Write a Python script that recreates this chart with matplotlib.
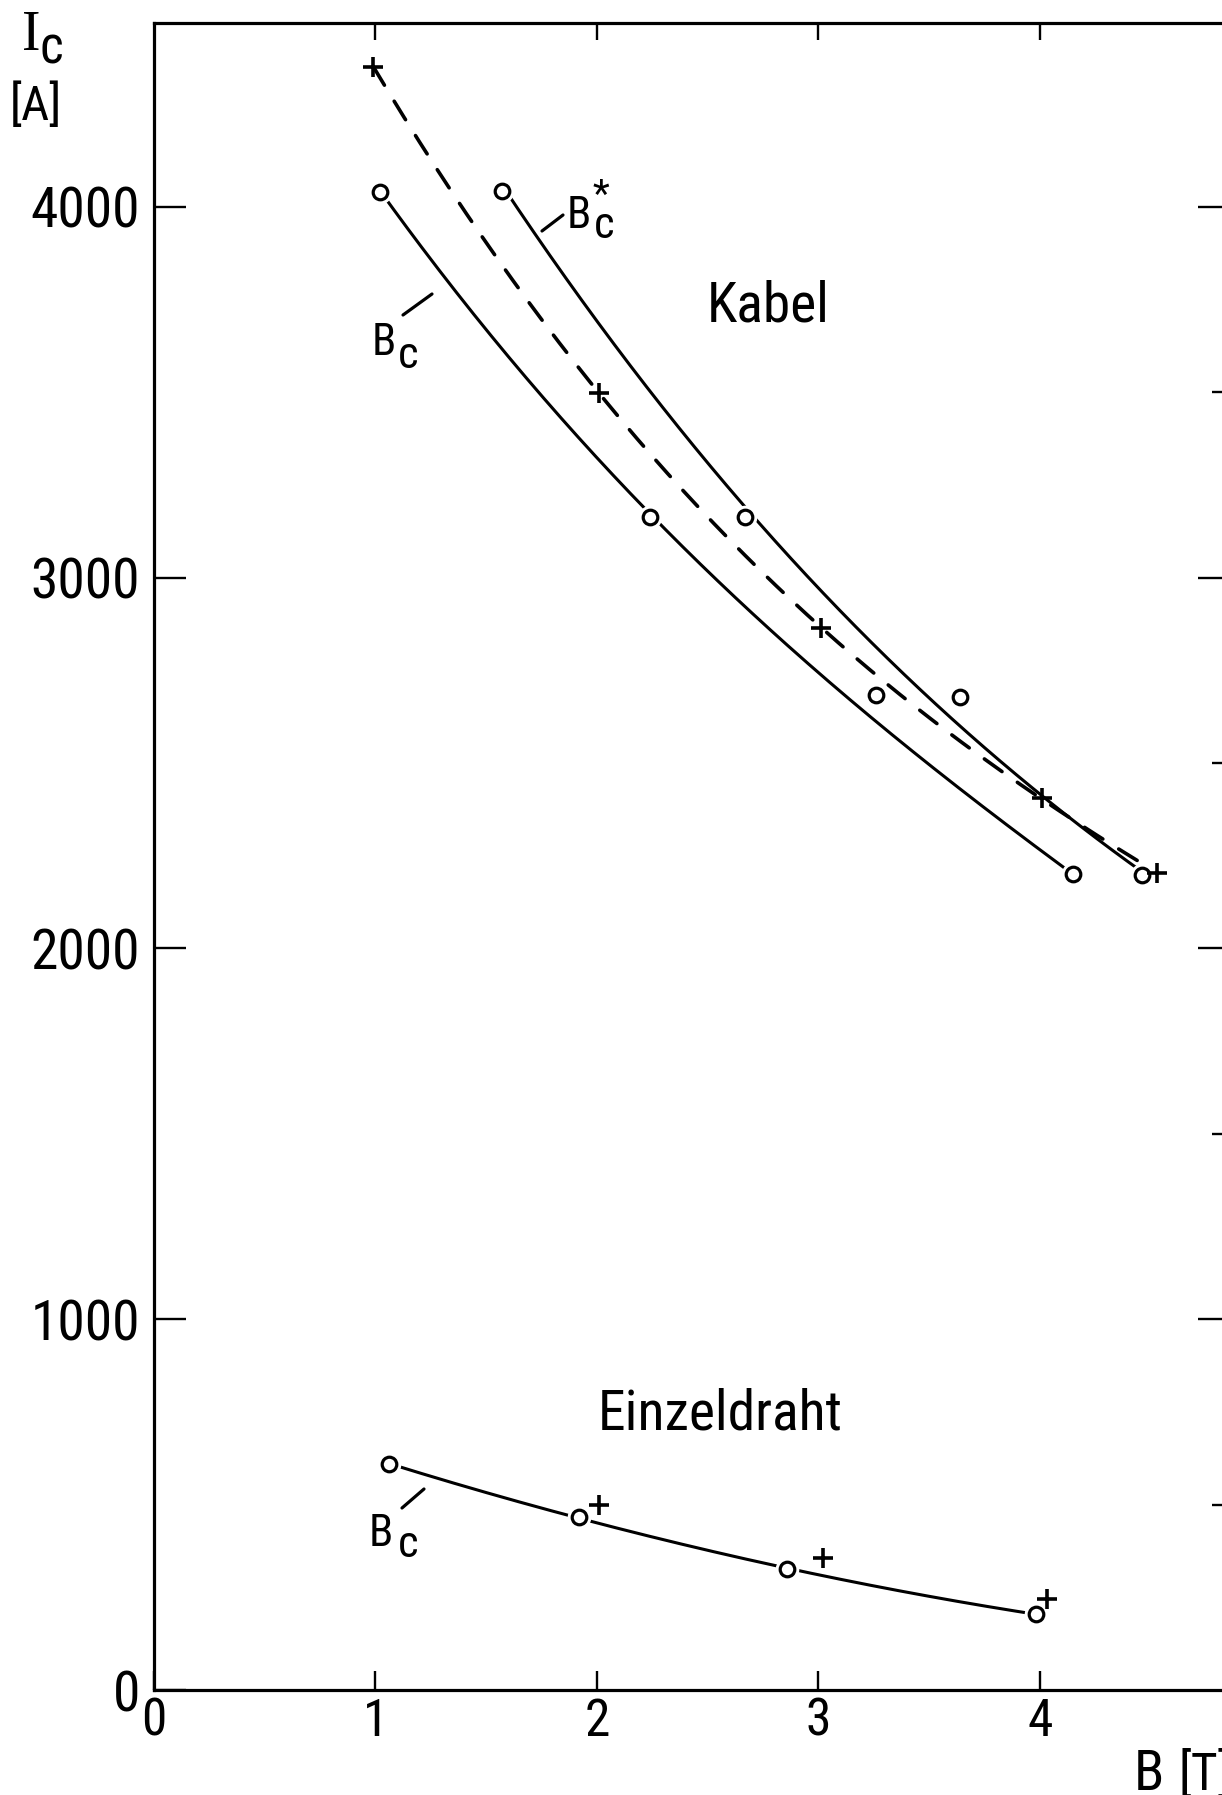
import os
import numpy as np
import matplotlib
matplotlib.use("Agg")
import matplotlib.pyplot as plt
from matplotlib import font_manager
from matplotlib.font_manager import FontProperties
from matplotlib.lines import Line2D

# ---------------- data ----------------
# Kabel, B_c : measured points (open circles)
kabel_bc_B = [1.02, 2.24, 3.26, 4.15]
kabel_bc_I = [4040, 3165, 2684, 2200]
# Kabel, B_c : traced points of the drawn solid curve
kabel_bc_curve_B = [1.02, 1.38, 1.83, 2.24, 2.69, 3.14, 3.74, 4.15]
kabel_bc_curve_I = [4040, 3767, 3434, 3165, 2913, 2675, 2382, 2200]

# Kabel, B_c* : measured points (open circles)
kabel_bcs_B = [1.57, 2.67, 3.64, 4.46]
kabel_bcs_I = [4043, 3165, 2679, 2198]
# Kabel, B_c* : traced points of the drawn solid curve
kabel_bcs_curve_B = [1.57, 1.83, 2.06, 2.67, 2.92, 3.14, 3.44, 3.99, 4.42, 4.46]
kabel_bcs_curve_I = [4043, 3857, 3650, 3165, 3030, 2881, 2715, 2427, 2230, 2198]

# Kabel, crosses with dashed curve
kabel_plus_B = [0.99, 2.01, 3.01, 4.01, 4.53]
kabel_plus_I = [4378, 3499, 2864, 2405, 2203]
kabel_dash_end_B = 4.47

# Einzeldraht: circles (curve) and crosses
einzel_o_B = [1.06, 1.92, 2.86, 3.98]
einzel_o_I = [610, 466, 326, 205]
einzel_plus_B = [2.01, 3.02, 4.03]
einzel_plus_I = [499, 355, 245]

x_ticks = [0, 1, 2, 3, 4]
x_ticklabels = ["0", "1", "2", "3", "4"]
y_ticks = [0, 1000, 2000, 3000, 4000]
y_ticklabels = ["0", "1000", "2000", "3000", "4000"]
y_minor_right = [500, 1500, 2500, 3500]
y_major_right = [1000, 2000, 3000, 4000]
top_ticks = [1, 2, 3, 4]

# ---------------- fonts: look for a narrow sans ----------------
prefs = ["LiberationSansNarrow-Regular", "RobotoCondensed-Regular", "Roboto_Condensed-Regular",
         "NotoSans-Condensed.", "NotoSansDisplay-Condensed.", "OpenSans_Condensed-Regular",
         "OpenSansCondensed-Regular", "DejaVuSansCondensed.", "Lato-Regular"]
files = [f.fname for f in font_manager.fontManager.ttflist]
narrow_file = None
for p in prefs:
    for fn in files:
        if os.path.basename(fn).startswith(p):
            narrow_file = fn
            break
    if narrow_file:
        break
if narrow_file is None:
    for fn in files:
        b = os.path.basename(fn).lower()
        if ("condensed" in b or "narrow" in b) and "sans" in b and not any(
                k in b for k in ["bold", "italic", "light", "thin", "black", "medium", "semi", "extra"]):
            narrow_file = fn
            break

if narrow_file is not None and "lato" not in os.path.basename(narrow_file).lower():
    SC = 1.0  # size scale for narrow font
else:
    SC = 0.80  # wider fallback font: shrink

def FP(size):
    if narrow_file is not None:
        return FontProperties(fname=narrow_file, size=size * SC)
    return FontProperties(family="DejaVu Sans", size=size * SC)

names = {f.name for f in font_manager.fontManager.ttflist}
SERIF = "Liberation Serif" if "Liberation Serif" in names else "DejaVu Serif"

W, H = 1222, 1795
fig = plt.figure(figsize=(W / 100, H / 100), dpi=100)
fig.patch.set_facecolor("white")

def fx(px):
    return px / W

def fy(py):
    return 1 - py / H

ax = fig.add_axes([fx(154), fy(1690), fx(1222) - fx(154), fy(23) - fy(1690)])
ax.set_xlim(0, 4.822)
ax.set_ylim(0, 4496)

LW = 2.3
for s in ["left", "bottom", "top"]:
    ax.spines[s].set_linewidth(LW)
ax.spines["right"].set_visible(False)

ax.set_xticks(x_ticks)
ax.set_xticklabels(x_ticklabels, fontproperties=FP(37))
ax.set_yticks(y_ticks)
ax.set_yticklabels(y_ticklabels, fontproperties=FP(40))
ax.tick_params(axis="x", direction="in", length=14, width=1.7, top=False, pad=5)
ax.tick_params(axis="y", direction="in", length=23, width=1.7, right=False, pad=10)

secx = ax.secondary_xaxis("top")
secx.set_xticks(top_ticks)
secx.tick_params(direction="in", length=12, width=1.7, labeltop=False)
for sp in secx.spines.values():
    sp.set_visible(False)

secy = ax.secondary_yaxis("right")
secy.set_yticks(y_major_right)
secy.set_yticks(y_minor_right, minor=True)
secy.tick_params(which="major", direction="in", length=17, width=1.7, labelright=False)
secy.tick_params(which="minor", direction="in", length=7, width=1.7, labelright=False)
for sp in secy.spines.values():
    sp.set_visible(False)

# ---------------- curves ----------------
def smooth(bx, iy, deg, x0, x1):
    c = np.polyfit(bx, iy, deg)
    xs = np.linspace(x0, x1, 200)
    return xs, np.polyval(c, xs)

xs, ys = smooth(kabel_bc_curve_B, kabel_bc_curve_I, 3, kabel_bc_curve_B[0], kabel_bc_curve_B[-1])
ax.plot(xs, ys, color="black", lw=2.2, solid_capstyle="round", zorder=2)

xs, ys = smooth(kabel_bcs_curve_B, kabel_bcs_curve_I, 3, kabel_bcs_curve_B[0], kabel_bcs_curve_B[-1])
ax.plot(xs, ys, color="black", lw=2.2, solid_capstyle="round", zorder=2)

xs, ys = smooth(kabel_plus_B, kabel_plus_I, 3, kabel_plus_B[0], kabel_dash_end_B)
ax.plot(xs, ys, color="black", lw=2.6, linestyle=(0, (6.0, 5.2)),
        dash_capstyle="round", zorder=2)

xs, ys = smooth(einzel_o_B, einzel_o_I, 2, einzel_o_B[0], einzel_o_B[-1])
ax.plot(xs, ys, color="black", lw=2.2, solid_capstyle="round", zorder=2)

# ---------------- markers ----------------
for bx, iy in [(kabel_bc_B, kabel_bc_I), (kabel_bcs_B, kabel_bcs_I), (einzel_o_B, einzel_o_I)]:
    ax.plot(bx, iy, linestyle="none", marker="o", markersize=16,
            markerfacecolor="white", markeredgecolor="white", zorder=3)
    ax.plot(bx, iy, linestyle="none", marker="o", markersize=10.5,
            markerfacecolor="white", markeredgecolor="black", markeredgewidth=2.3, zorder=4)

for bx, iy in [(kabel_plus_B, kabel_plus_I), (einzel_plus_B, einzel_plus_I)]:
    ax.plot(bx, iy, linestyle="none", marker="+", markersize=15,
            markeredgecolor="black", markeredgewidth=2.6, zorder=5)

# ---------------- texts ----------------
def t(px, py, s, size, serif=False, ha="left", va="baseline"):
    if serif:
        fig.text(fx(px), fy(py), s, fontsize=size, family=[SERIF, "DejaVu Serif"],
                 ha=ha, va=va, color="black")
    else:
        fig.text(fx(px), fy(py), s, fontproperties=FP(size), ha=ha, va=va, color="black")

t(707, 321, "Kabel", 40)
t(598, 1430, "Einzeldraht", 40)

# B_c labels with leader lines
t(372, 355, "B", 32)
t(398, 368, "c", 32)
t(567, 228, "B", 32)
t(594, 238, "c", 32)
t(601, 196, "*", 28, ha="center", va="center")
t(369, 1546, "B", 32)
t(398, 1557, "c", 32)

for (x0, y0, x1, y1) in [(403, 315, 432, 294), (542, 231, 563, 215), (402, 1508, 424, 1489)]:
    fig.add_artist(Line2D([fx(x0), fx(x1)], [fy(y0), fy(y1)], color="black",
                          lw=2.3, solid_capstyle="round"))

# axis labels
t(22, 50, "I", 40, serif=True)
t(40, 63, "c", 37)
t(10, 120, "[A]", 35)
t(1134, 1790, "B", 40)
t(1178, 1790, "[T]", 37)

fig.savefig("out.png", dpi=100, facecolor="white")
